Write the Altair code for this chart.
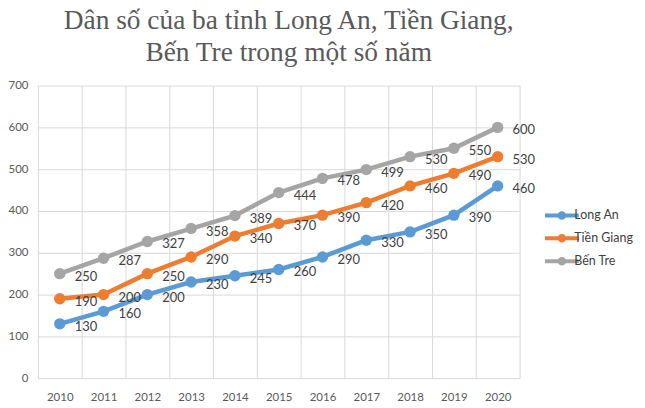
import altair as alt
import pandas as pd

years = [2010, 2011, 2012, 2013, 2014, 2015, 2016, 2017, 2018, 2019, 2020]
long_an = [130, 160, 200, 230, 245, 260, 290, 330, 350, 390, 460]
tien_giang = [190, 200, 250, 290, 340, 370, 390, 420, 460, 490, 530]
ben_tre = [250, 287, 327, 358, 389, 444, 478, 499, 530, 550, 600]
series_names = ["Long An", "Tiền Giang", "Bến Tre"]
series_colors = ["#5B9BD5", "#ED7D31", "#A5A5A5"]
grid_values = [2009.5 + i for i in range(12)]

rows = []
for name, vals in zip(series_names, [long_an, tien_giang, ben_tre]):
    for y, v in zip(years, vals):
        rows.append({"year": y, "value": v, "series": name})
df = pd.DataFrame(rows)

W, H = 484, 294
band = W / 11

x = alt.X(
    "year:Q",
    scale=alt.Scale(domain=[2009.5, 2020.5], nice=False, zero=False),
    axis=alt.Axis(
        values=grid_values,
        labelExpr="datum.value < 2020 ? format(datum.value + 0.5, 'd') : ''",
        labelOffset=band / 2,
        grid=True,
        ticks=False,
        domain=False,
        title=None,
        labelPadding=13,
        labelFlush=False,
        labelOverlap=False,
    ),
)
y = alt.Y(
    "value:Q",
    scale=alt.Scale(domain=[0, 700], nice=False),
    axis=alt.Axis(
        values=[0, 100, 200, 300, 400, 500, 600, 700],
        grid=True,
        ticks=False,
        domain=False,
        title=None,
        labelPadding=10,
    ),
)
color = alt.Color(
    "series:N",
    sort=series_names,
    scale=alt.Scale(domain=series_names, range=series_colors),
    legend=alt.Legend(
        title=None,
        orient="none",
        legendX=W + 30,
        legendY=118,
        symbolType="M-1.65,0H1.65M0.22,0A0.22,0.22,0,1,1,-0.22,0A0.22,0.22,0,1,1,0.22,0",
        symbolSize=425,
        symbolStrokeWidth=4,
        rowPadding=0,
        labelFont="Lato",
        labelFontSize=12.5,
        labelColor="#404040",
        labelOffset=0,
    ),
)

base = alt.Chart(df).encode(x=x, y=y)
lines = base.mark_line(strokeWidth=4.5).encode(color=color)
points = base.mark_point(filled=True, size=130, opacity=1).encode(color=color)
labels = base.mark_text(
    align="left", baseline="middle", dx=15, dy=3, fontSize=13, font="Lato", color="#404040"
).encode(text="value:Q")

chart = (
    alt.layer(lines, points, labels)
    .properties(
        width=W,
        height=H,
        autosize=alt.AutoSizeParams(type="none"),
        padding={"left": 30, "top": 77, "right": 118, "bottom": 26},
        background="white",
        title=alt.Title(
            ["Dân số của ba tỉnh Long An, Tiền Giang,", "Bến Tre trong một số năm"],
            font="Liberation Serif",
            fontSize=27.5,
            fontWeight="normal",
            color="#595959",
            anchor="middle",
            dx=10,
            offset=13,
            lineHeight=32,
        ),
    )
    .configure_view(stroke=None)
    .configure_axis(
        gridColor="#D9D9D9",
        gridWidth=1,
        labelFont="Lato",
        labelFontSize=11.5,
        labelColor="#595959",
    )
)

chart.save("out.html", embed_options={"renderer": "svg", "actions": False})
